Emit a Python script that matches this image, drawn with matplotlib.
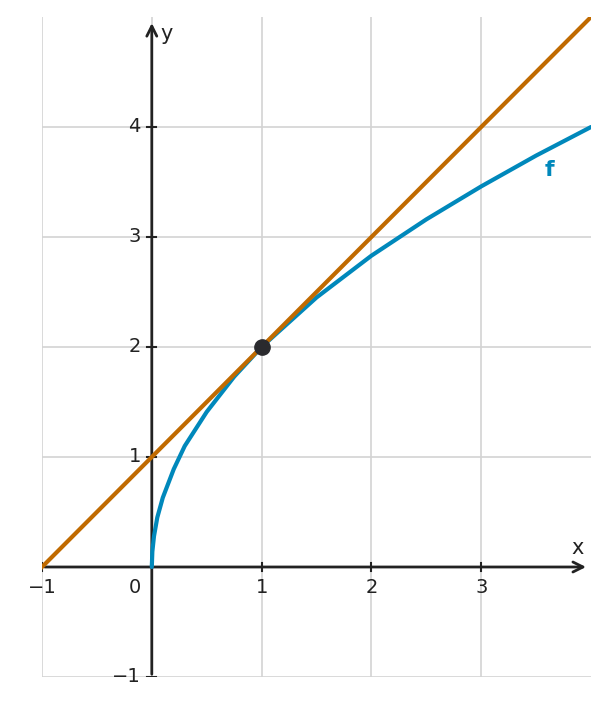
import numpy as np
import matplotlib.pyplot as plt

f_x = [0, 0.005, 0.02, 0.05, 0.1, 0.2, 0.3, 0.5, 0.75, 1, 1.5, 2, 2.5, 3, 3.5, 4]
f_y = [0, 0.14, 0.28, 0.45, 0.63, 0.89, 1.10, 1.41, 1.73, 2, 2.45, 2.83, 3.16, 3.46, 3.74, 4]
# tangent line endpoints
t_x = [-1, 4]
t_y = [0, 5]
point = (1, 2)
xticks = [-1, 1, 2, 3]
yticks = [-1, 1, 2, 3, 4]

fig = plt.figure(figsize=(6.09, 7.05), dpi=100)
ax = fig.add_axes([42 / 609, 28 / 705, 549 / 609, 660 / 705])
ax.set_xlim(-1, 4)
ax.set_ylim(-1, 5)
for s in ax.spines.values():
    s.set_visible(False)
ax.set_xticks([])
ax.set_yticks([])

grid_c = "#d3d3d3"
for gx in [-1, 0, 1, 2, 3]:
    ax.axvline(gx, color=grid_c, lw=1.2, zorder=0)
for gy in [-1, 1, 2, 3, 4]:
    ax.axhline(gy, color=grid_c, lw=1.2, zorder=0)

ax.annotate("", xy=(3.98, 0), xytext=(-1, 0),
            arrowprops=dict(arrowstyle="->", color="#222222", lw=2, mutation_scale=18))
ax.annotate("", xy=(0, 4.97), xytext=(0, -1),
            arrowprops=dict(arrowstyle="->", color="#222222", lw=2, mutation_scale=18))

tc = "#222222"
for v in xticks:
    ax.plot([v, v], [-0.04, 0.04], color=tc, lw=1.5)
    ax.text(v, -0.1, "\u2212" + str(-v) if v < 0 else str(v), ha="center", va="top",
            fontsize=14, color=tc, clip_on=False)
for v in yticks:
    ax.plot([-0.04, 0.04], [v, v], color=tc, lw=1.5)
    ax.text(-0.1, v, "\u2212" + str(-v) if v < 0 else str(v), ha="right", va="center",
            fontsize=14, color=tc, clip_on=False)
ax.text(-0.1, -0.1, "0", ha="right", va="top", fontsize=14, color=tc)
ax.text(3.88, 0.08, "x", ha="center", va="bottom", fontsize=15, color=tc)
ax.text(0.08, 4.85, "y", ha="left", va="center", fontsize=15, color=tc)

ax.plot(f_x, f_y, color="#0088bb", lw=3, zorder=3, solid_capstyle="round")
ax.plot(t_x, t_y, color="#c06a00", lw=3, zorder=4)
ax.plot(*point, "o", color="#2a2a2e", ms=11, zorder=5)
ax.text(3.62, 3.55, "f", color="#0088bb", fontsize=16, fontweight="bold", ha="center")

fig.savefig("out.png", dpi=100)
